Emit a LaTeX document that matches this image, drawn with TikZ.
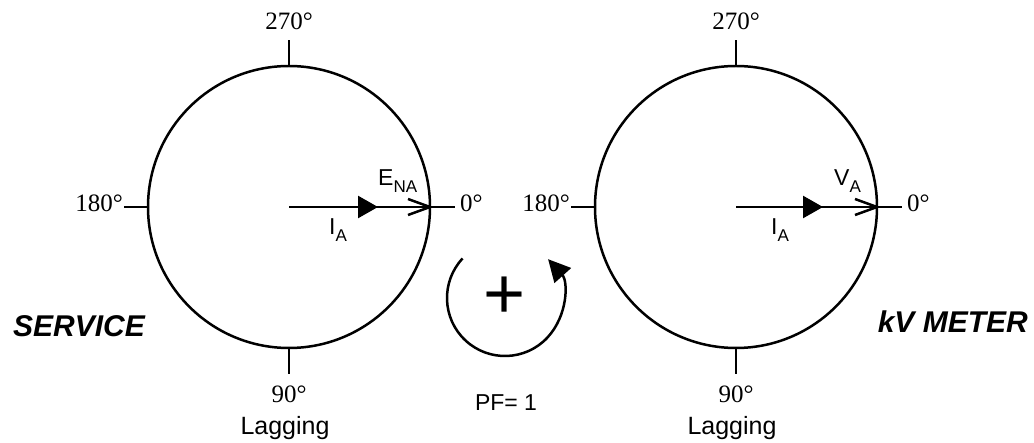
\documentclass[tikz,border=0pt]{standalone}
\usepackage{fontspec}
\setmainfont{Liberation Serif}
\setsansfont{Liberation Sans}
\usetikzlibrary{arrows.meta}
\tikzset{
  ln/.style={line width=2.5pt, line cap=butt},
  deg/.style={font=\fontsize{25}{25}\selectfont\rmfamily, inner sep=0pt},
  lab/.style={font=\fontsize{23}{23}\selectfont\sffamily, inner sep=0pt},
  big/.style={font=\fontsize{30}{30}\selectfont\sffamily\bfseries\itshape, inner sep=0pt},
  ftri/.style={-{Triangle[length=20pt,width=22pt]}},
}
\newcommand{\sub}[1]{\raisebox{-7pt}{\fontsize{17}{17}\selectfont #1}}
\begin{document}
\begin{tikzpicture}[x=1pt,y=-1pt]
\useasboundingbox (0,0) rectangle (1034,443);
% ---------- left phasor diagram ----------
\coordinate (cL) at (289,207);
\draw[ln] (cL) circle (141);
\coordinate (tL) at (289,66);  \coordinate (tL2) at (289,40);
\coordinate (bL) at (289,348); \coordinate (bL2) at (289,374);
\coordinate (lL) at (148,207); \coordinate (lL2) at (124,207);
\coordinate (rL) at (430,207); \coordinate (rL2) at (455,207);
\draw[ln] (tL) -- (tL2);
\draw[ln] (bL) -- (bL2);
\draw[ln] (lL) -- (lL2);
\draw[ln] (cL) -- (rL2);
\draw[ln, ftri] (cL) -- (378,207);
\draw[ln, line join=miter] (rL) ++(-22,-8) -- (rL) -- ++(-22,8);
\node[deg, anchor=base] (a270L) at (289,30) {270°};
\node[deg, anchor=base east] (a180L) at (123,212) {180°};
\node[deg, anchor=base west] (a0L) at (460,212) {0°};
\node[deg, anchor=base] (a90L) at (289,403) {90°};
\node[lab, font=\fontsize{25}{25}\selectfont\sffamily, anchor=base] (lagL) at (285,435) {Lagging};
\node[lab, anchor=base west] (enaL) at (378,186) {E\sub{NA}};
\node[lab, anchor=base west] (iaL) at (329,235) {I\sub{A}};
% ---------- right phasor diagram ----------
\coordinate (cR) at (736,207);
\draw[ln] (cR) circle (141);
\coordinate (tR) at (736,66);  \coordinate (tR2) at (736,40);
\coordinate (bR) at (736,348); \coordinate (bR2) at (736,374);
\coordinate (lR) at (595,207); \coordinate (lR2) at (571,207);
\coordinate (rR) at (877,207); \coordinate (rR2) at (902,207);
\draw[ln] (tR) -- (tR2);
\draw[ln] (bR) -- (bR2);
\draw[ln] (lR) -- (lR2);
\draw[ln] (cR) -- (rR2);
\draw[ln, ftri] (cR) -- (823,207);
\draw[ln, line join=miter] (rR) ++(-22,-8) -- (rR) -- ++(-22,8);
\node[deg, anchor=base] (a270R) at (736,30) {270°};
\node[deg, anchor=base east] (a180R) at (570,212) {180°};
\node[deg, anchor=base west] (a0R) at (907,212) {0°};
\node[deg, anchor=base] (a90R) at (736,403) {90°};
\node[lab, font=\fontsize{25}{25}\selectfont\sffamily, anchor=base] (lagR) at (732,435) {Lagging};
\node[lab, anchor=base west] (vaR) at (834,186) {V\sub{A}};
\node[lab, anchor=base west] (iaR) at (771,235) {I\sub{A}};
% ---------- rotation ----------
\coordinate (rot) at (505,298);
\draw[ln, -{Triangle[length=22pt,width=22pt]}] (rot) ++(223:58) arc[start angle=223, end angle=-42, radius=58];
\node[font=\fontsize{72}{72}\selectfont\sffamily, inner sep=0pt] (plus) at (505,298) {+};
\node[lab, font=\fontsize{23}{23}\selectfont\sffamily, anchor=base] (pf) at (506,411) {PF= 1};
% ---------- titles ----------
\node[big, anchor=base west] (svc) at (13,337) {SERVICE};
\node[big, anchor=base east] (kvm) at (1028,333) {kV METER};
\end{tikzpicture}
\end{document}
